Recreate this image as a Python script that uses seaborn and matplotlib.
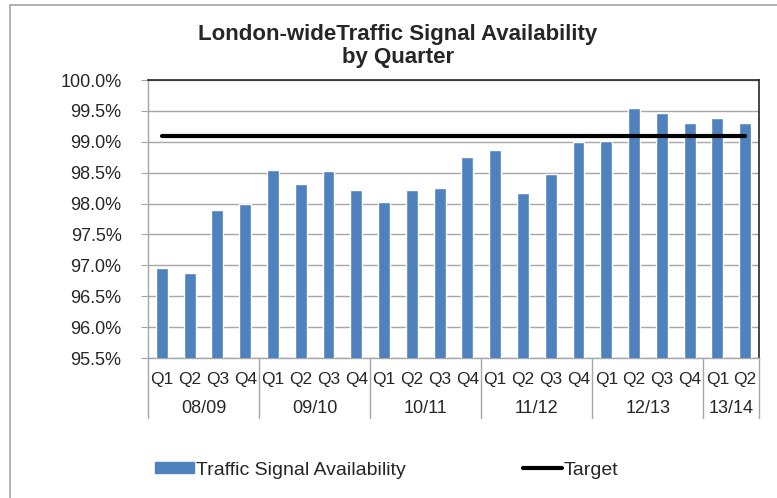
import matplotlib
matplotlib.use("Agg")
import matplotlib.pyplot as plt
import matplotlib.transforms as mtrans
from matplotlib.patches import Rectangle, Patch
from matplotlib.lines import Line2D
import numpy as np
import pandas as pd
import seaborn as sns

# data
years = ["08/09", "09/10", "10/11", "11/12", "12/13", "13/14"]
quarters_per_year = [4, 4, 4, 4, 4, 2]
quarter_names = ["Q1", "Q2", "Q3", "Q4"]
availability = [96.96, 96.87, 97.90, 98.00,
                98.54, 98.31, 98.53, 98.22,
                98.03, 98.22, 98.25, 98.75,
                98.87, 98.17, 98.48, 99.00,
                99.01, 99.54, 99.46, 99.31,
                99.38, 99.31]
target = 99.1
y_ticks = [95.5, 96.0, 96.5, 97.0, 97.5, 98.0, 98.5, 99.0, 99.5, 100.0]

bar_blue = "#4F81BD"
grid_grey = "#A6A6A6"

period, qlabel, year_of = [], [], []
for yr, nq in zip(years, quarters_per_year):
    for q in quarter_names[:nq]:
        period.append(yr + " " + q)
        qlabel.append(q)
        year_of.append(yr)
df = pd.DataFrame({"period": period, "quarter": qlabel, "year": year_of,
                   "avail": availability})

sns.set_style("white")
plt.rcParams["font.family"] = ["Liberation Sans", "DejaVu Sans"]

fig = plt.figure(figsize=(7.77, 4.98), dpi=100)
ax = fig.add_axes([148 / 777, 1 - 358 / 498, (759 - 148) / 777, (358 - 80) / 498])

sns.barplot(data=df, x="period", y="avail", color=bar_blue, saturation=1,
            width=0.43, ax=ax, zorder=3)

# target line across all quarters
ax.plot([0, len(df) - 1], [target, target], color="black", lw=3,
        solid_capstyle="round", zorder=4)

ax.set_ylim(y_ticks[0], y_ticks[-1])
ax.set_xlim(-0.5, len(df) - 0.5)
ax.set_yticks(y_ticks)
ax.set_yticklabels([f"{v:.1f}%" for v in y_ticks], fontsize=13)
ax.set_xticks(range(len(df)))
ax.set_xticklabels(df["quarter"], fontsize=12.5)
ax.tick_params(axis="x", length=0, pad=10)
ax.tick_params(axis="y", length=5, color=grid_grey, pad=14, left=True)
ax.set_xlabel("")
ax.set_ylabel("")
ax.yaxis.grid(True, color=grid_grey, lw=1)
ax.set_axisbelow(True)

for s in ["top", "right"]:
    ax.spines[s].set_color("#262626")
    ax.spines[s].set_linewidth(1.2)
for s in ["left", "bottom"]:
    ax.spines[s].set_color(grid_grey)
    ax.spines[s].set_linewidth(1)

# year group separators and labels under the quarter labels
trans = mtrans.blended_transform_factory(ax.transData, ax.transAxes)
edges = np.concatenate([[0], np.cumsum(quarters_per_year)]) - 0.5
for e in edges:
    ax.plot([e, e], [0, -0.215], color=grid_grey, lw=1, transform=trans,
            clip_on=False)
for yr, lo, hi in zip(years, edges[:-1], edges[1:]):
    ax.text((lo + hi) / 2, -0.183, yr, transform=trans, ha="center",
            va="center", fontsize=13)

fig.text(398 / 777, 1 - 46 / 498,
         "London-wideTraffic Signal Availability\nby Quarter",
         ha="center", va="center", fontsize=16, fontweight="bold",
         linespacing=1.15)

handles = [Patch(facecolor=bar_blue, edgecolor=bar_blue),
           Line2D([0], [0], color="black", lw=3)]
fig.legend(handles, ["Traffic Signal Availability", "Target"],
           loc="center left", bbox_to_anchor=(155 / 777, 1 - 470 / 498),
           ncol=2, frameon=False, fontsize=14, handlelength=2.0,
           handleheight=0.55, handletextpad=0.1, columnspacing=6.05,
           borderpad=0, borderaxespad=0)

# outer chart frame
fig.patches.append(Rectangle((10 / 777, -0.01), 1.0, 1 - 5 / 498 + 0.01,
                             transform=fig.transFigure, fill=False,
                             edgecolor=grid_grey, lw=1.2))

fig.savefig("out.png", dpi=100)
